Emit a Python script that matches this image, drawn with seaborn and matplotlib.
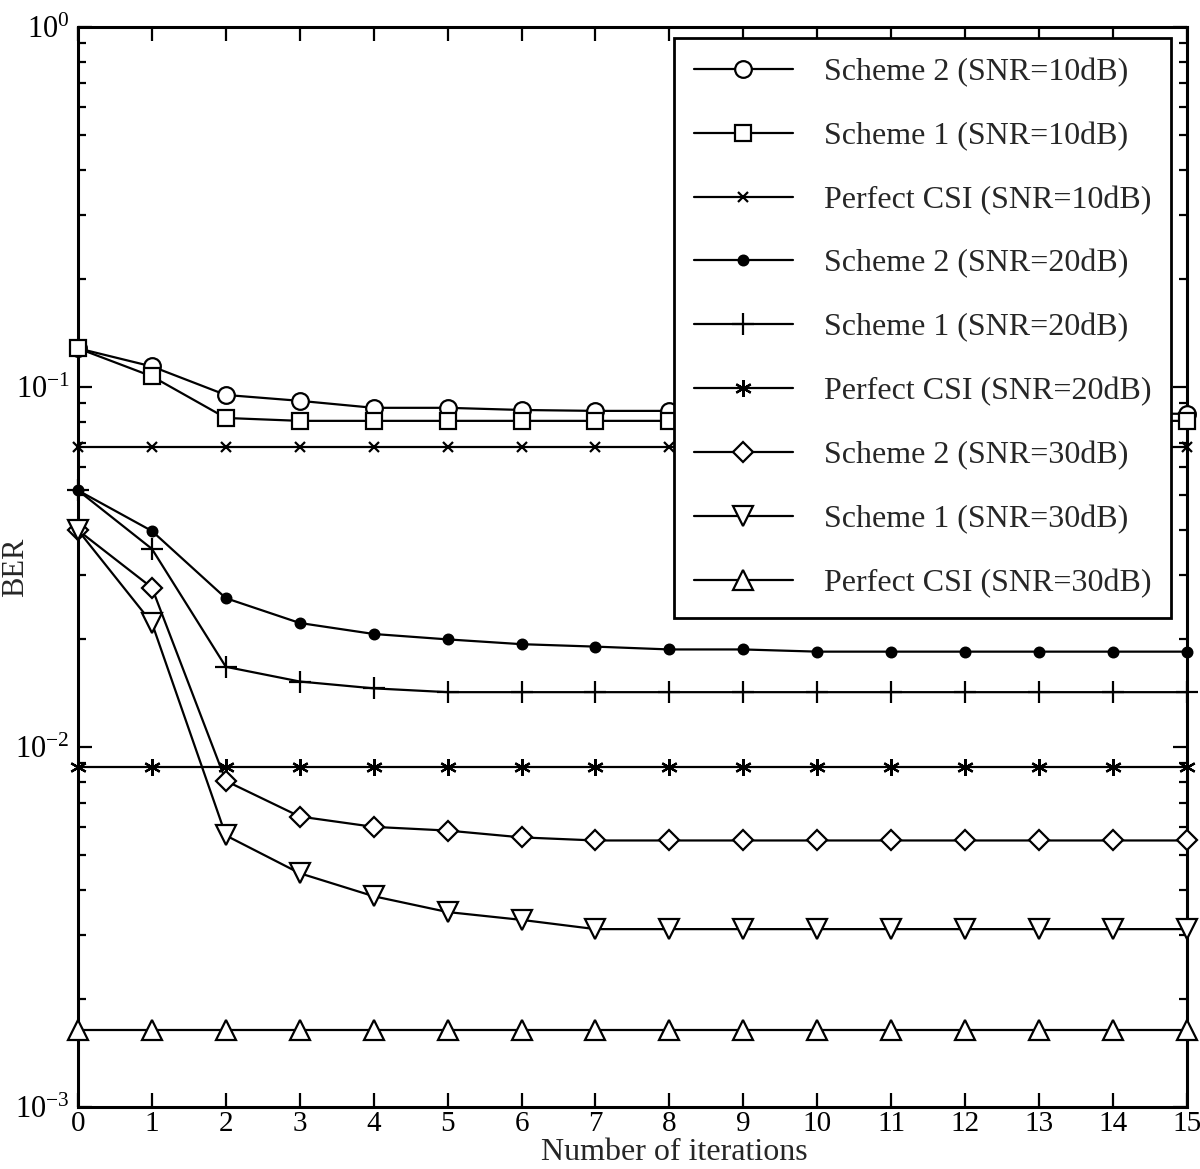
import numpy as np
import pandas as pd
import seaborn as sns
import matplotlib.pyplot as plt
from matplotlib.ticker import LogLocator, NullFormatter, FixedLocator

# --- Data ---
iterations = list(range(16))

scheme2_10db = [0.128, 0.114, 0.095, 0.0915, 0.0875, 0.0875, 0.0863, 0.0858, 0.0858,
                0.0855, 0.0852, 0.085, 0.085, 0.0848, 0.0845, 0.0842]
scheme1_10db = [0.128, 0.107, 0.082, 0.0805, 0.0805, 0.0805, 0.0805, 0.0805, 0.0805,
                0.0805, 0.0805, 0.0805, 0.0805, 0.0805, 0.0805, 0.0805]
perfect_10db = [0.0683] * 16

scheme2_20db = [0.0516, 0.0398, 0.0259, 0.0221, 0.0206, 0.0199, 0.0193, 0.0190, 0.01866,
                0.01866, 0.0184, 0.0184, 0.0184, 0.0184, 0.0184, 0.0184]
scheme1_20db = [0.0516, 0.0355, 0.0167, 0.0152, 0.01455, 0.0142, 0.0142, 0.0142, 0.0142,
                0.0142, 0.0142, 0.0142, 0.0142, 0.0142, 0.0142, 0.0142]
perfect_20db = [0.00881] * 16

scheme2_30db = [0.040, 0.0277, 0.00805, 0.00641, 0.0060, 0.00586, 0.00561, 0.0055, 0.0055,
                0.0055, 0.0055, 0.0055, 0.0055, 0.0055, 0.0055, 0.0055]
scheme1_30db = [0.040, 0.0221, 0.00568, 0.00446, 0.00385, 0.00348, 0.00331, 0.00312, 0.00312,
                0.00312, 0.00312, 0.00312, 0.00312, 0.00312, 0.00312, 0.00312]
perfect_30db = [0.00164] * 16

labels = ["Scheme 2 (SNR=10dB)", "Scheme 1 (SNR=10dB)", "Perfect CSI (SNR=10dB)",
          "Scheme 2 (SNR=20dB)", "Scheme 1 (SNR=20dB)", "Perfect CSI (SNR=20dB)",
          "Scheme 2 (SNR=30dB)", "Scheme 1 (SNR=30dB)", "Perfect CSI (SNR=30dB)"]
series = [scheme2_10db, scheme1_10db, perfect_10db,
          scheme2_20db, scheme1_20db, perfect_20db,
          scheme2_30db, scheme1_30db, perfect_30db]

# marker styles: (marker, size, facecolor)
styles = [("o", 12, "white"), ("s", 12, "white"), ("x", 7, "black"),
          ("o", 7, "black"), ("+", 16, "black"), ((6, 2, 0), 12, "black"),
          ("D", 10, "white"), ("v", 14, "white"), ("^", 14, "white")]

# --- Style ---
sns.set_style("ticks")
plt.rcParams["font.family"] = ["Liberation Serif", "DejaVu Serif"]
plt.rcParams["mathtext.fontset"] = "custom"
plt.rcParams["mathtext.rm"] = "Liberation Serif"
plt.rcParams["mathtext.it"] = "Liberation Serif:italic"

fig, ax = plt.subplots(figsize=(12, 11.69), dpi=100)
fig.subplots_adjust(left=0.065, right=0.989, top=0.977, bottom=0.053)

for lab, vals, (mk, ms, fc) in zip(labels, series, styles):
    sns.lineplot(x=iterations, y=vals, ax=ax, color="black", linewidth=1.6,
                 marker=mk, markersize=ms, markerfacecolor=fc,
                 markeredgecolor="black", markeredgewidth=1.6,
                 label=lab, clip_on=False, zorder=3)

ax.set_yscale("log")
ax.set_xlim(0, 15)
ax.set_ylim(1e-3, 1)
ax.xaxis.set_major_locator(FixedLocator(iterations))
ax.yaxis.set_major_locator(LogLocator(base=10, numticks=10))
ax.yaxis.set_minor_locator(LogLocator(base=10, subs=np.arange(2, 10), numticks=20))
ax.yaxis.set_minor_formatter(NullFormatter())

ax.tick_params(which="both", direction="in", top=True, right=True, width=1.6,
               colors="black")
ax.tick_params(which="major", length=10)
ax.tick_params(which="minor", length=6)
ax.tick_params(axis="x", pad=3, labelsize=21)
ax.tick_params(axis="y", pad=6, labelsize=22)
for sp in ax.spines.values():
    sp.set_linewidth(2.2)
    sp.set_color("black")

ax.set_xlabel("Number of iterations", fontsize=23)
ax.set_ylabel("BER", fontsize=22)
ax.xaxis.set_label_coords(0.5374, -0.0285)
ax.yaxis.set_label_coords(-0.0433, 0.5)

leg = ax.legend(loc="upper right", bbox_to_anchor=(0.9856, 0.9898), borderaxespad=0,
                fontsize=23, frameon=True, fancybox=False, edgecolor="black",
                framealpha=1, handlelength=3.1, handletextpad=0.97,
                labelspacing=1.08, borderpad=0.62)
leg.get_frame().set_linewidth(2.0)

fig.savefig("out.png", dpi=100)
